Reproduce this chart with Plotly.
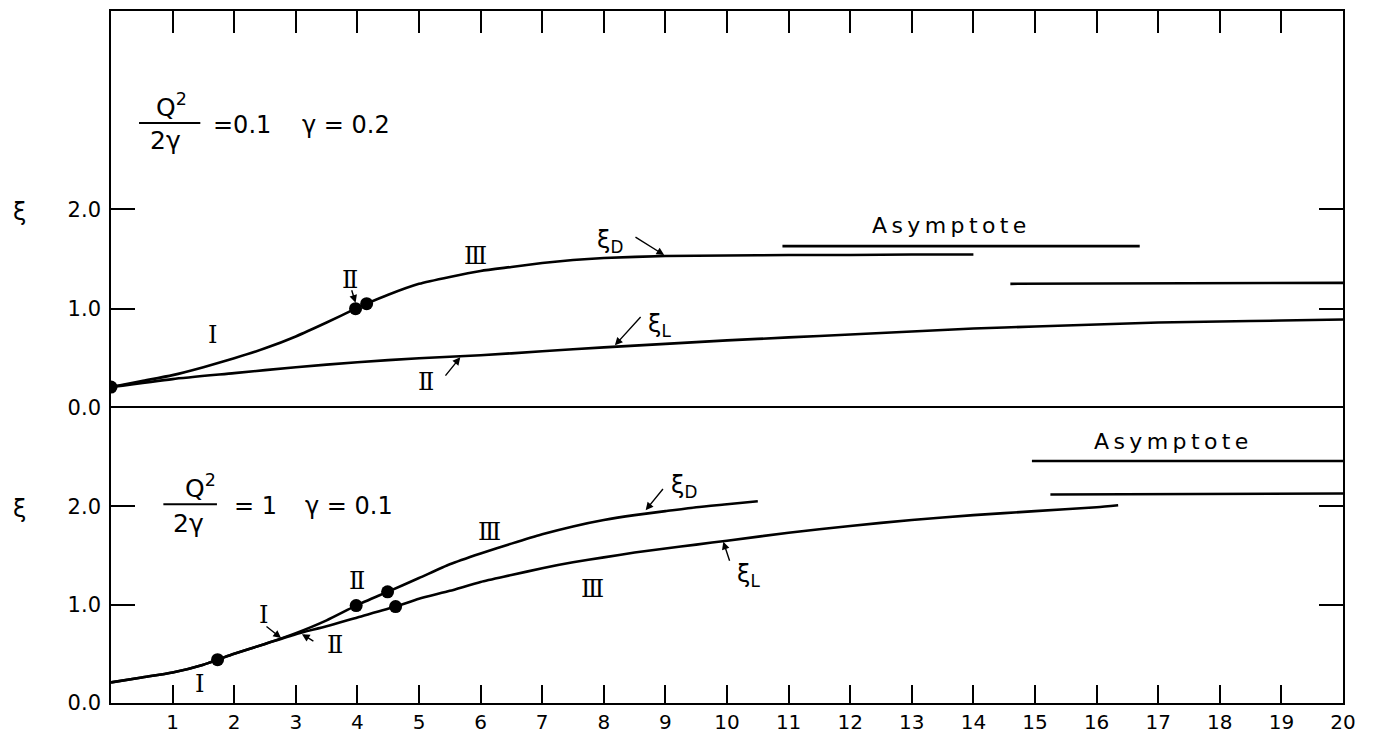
import plotly.graph_objects as go

# ---------------- data ----------------
# Top panel: Q^2/(2 gamma) = 0.1, gamma = 0.2
top_D_x = [0, 0.5, 1.0, 1.5, 2.0, 2.5, 3.0, 3.5, 3.97, 4.15, 4.5, 5.0, 5.5, 6.0, 6.5, 7.0, 7.5, 8.0, 9.0, 10.0, 11.0, 12.0, 13.0, 14.0]
top_D_y = [0.21, 0.27, 0.33, 0.41, 0.50, 0.60, 0.72, 0.86, 1.00, 1.05, 1.14, 1.25, 1.32, 1.38, 1.42, 1.46, 1.49, 1.51, 1.53, 1.535, 1.54, 1.54, 1.545, 1.545]
top_L_x = [0, 1, 2, 3, 4, 5, 6, 7, 8, 9, 10, 11, 12, 13, 14, 15, 16, 17, 18, 19, 20]
top_L_y = [0.21, 0.29, 0.35, 0.41, 0.46, 0.50, 0.53, 0.57, 0.61, 0.645, 0.68, 0.71, 0.74, 0.77, 0.80, 0.82, 0.84, 0.86, 0.87, 0.88, 0.89]
top_asym_D_x = [10.9, 16.7]
top_asym_D_y = [1.63, 1.63]
top_asym_L_x = [14.6, 20.0]
top_asym_L_y = [1.25, 1.26]
top_dots_x = [0, 3.97, 4.15]
top_dots_y = [0.21, 1.00, 1.05]

# Bottom panel: Q^2/(2 gamma) = 1, gamma = 0.1
bot_D_x = [0, 0.5, 1.0, 1.5, 1.73, 2.0, 2.5, 3.0, 3.5, 3.98, 4.49, 5.0, 5.5, 6.0, 6.5, 7.0, 7.5, 8.0, 8.5, 9.0, 9.5, 10.0, 10.5]
bot_D_y = [0.21, 0.26, 0.31, 0.39, 0.44, 0.50, 0.60, 0.71, 0.84, 0.99, 1.13, 1.27, 1.41, 1.52, 1.62, 1.715, 1.795, 1.86, 1.91, 1.95, 1.99, 2.02, 2.05]
bot_L_x = [0, 0.5, 1.0, 1.5, 1.73, 2.0, 2.5, 3.0, 3.5, 4.0, 4.62, 5.0, 5.5, 6.0, 6.5, 7.0, 7.5, 8.0, 8.5, 9.0, 9.5, 10.0, 11.0, 12.0, 13.0, 14.0, 15.0, 16.0, 16.35]
bot_L_y = [0.21, 0.26, 0.31, 0.39, 0.44, 0.50, 0.60, 0.70, 0.78, 0.87, 0.98, 1.06, 1.14, 1.23, 1.30, 1.37, 1.43, 1.48, 1.53, 1.57, 1.61, 1.65, 1.73, 1.80, 1.86, 1.91, 1.95, 1.99, 2.01]
bot_asym_D_x = [14.95, 20.0]
bot_asym_D_y = [2.46, 2.46]
bot_asym_L_x = [15.25, 20.0]
bot_asym_L_y = [2.12, 2.13]
bot_dots_x = [1.73, 3.98, 4.49, 4.62]
bot_dots_y = [0.44, 0.99, 1.13, 0.98]

x_tick_vals = list(range(1, 21))
x_tick_text = [str(v) for v in x_tick_vals]
y_tick_vals = [0, 1, 2]
y_tick_text = ["0.0", "1.0", "2.0"]

# ---------------- figure ----------------
BLACK = "black"
LW = 2.6
fig = go.Figure()

def line(x, y, xa, ya):
    fig.add_trace(go.Scatter(x=x, y=y, mode="lines", xaxis=xa, yaxis=ya,
                             line=dict(color=BLACK, width=LW, shape="spline", smoothing=0.6),
                             showlegend=False, hoverinfo="skip"))

def dots(x, y, xa, ya):
    fig.add_trace(go.Scatter(x=x, y=y, mode="markers", xaxis=xa, yaxis=ya,
                             marker=dict(color=BLACK, size=13), showlegend=False, hoverinfo="skip"))

line(top_D_x, top_D_y, "x2", "y2")
line(top_L_x, top_L_y, "x2", "y2")
line(top_asym_D_x, top_asym_D_y, "x2", "y2")
line(top_asym_L_x, top_asym_L_y, "x2", "y2")
dots(top_dots_x, top_dots_y, "x2", "y2")

line(bot_D_x, bot_D_y, "x", "y")
line(bot_L_x, bot_L_y, "x", "y")
line(bot_asym_D_x, bot_asym_D_y, "x", "y")
line(bot_asym_L_x, bot_asym_L_y, "x", "y")
dots(bot_dots_x, bot_dots_y, "x", "y")

SPLIT = 0.4265
axis_common = dict(showgrid=False, zeroline=False, showline=True, linecolor=BLACK,
                   linewidth=1.6, ticks="inside", tickcolor=BLACK, tickwidth=1.5, automargin=False)
TICKFONT = dict(family="DejaVu Sans", size=21, color=BLACK)
XTICKFONT = dict(family="DejaVu Sans", size=20, color=BLACK)

fig.update_layout(
    xaxis=dict(domain=[0, 1], anchor="y", range=[0, 20], tickvals=x_tick_vals, ticktext=x_tick_text,
               ticklen=18, mirror=True, tickfont=XTICKFONT, ticklabelstandoff=0, **axis_common),
    yaxis=dict(domain=[0, SPLIT], anchor="x", range=[0, 3], tickvals=y_tick_vals, ticktext=y_tick_text,
               ticklen=24, mirror="ticks", tickfont=TICKFONT, ticklabelstandoff=4, **axis_common),
    xaxis2=dict(domain=[0, 1], anchor="y2", range=[0, 20], tickvals=x_tick_vals[:-1], side="top",
                showticklabels=False, ticklen=22, mirror=False, matches="x", **axis_common),
    yaxis2=dict(domain=[SPLIT, 1], anchor="x2", range=[0, 4], tickvals=y_tick_vals, ticktext=y_tick_text,
                ticklen=24, mirror="ticks", tickfont=TICKFONT, ticklabelstandoff=4, **axis_common),
    plot_bgcolor="white", paper_bgcolor="white",
    margin=dict(l=111, r=39, t=11, b=33),
    width=1382, height=736,
)

SERIF = dict(family="DejaVu Serif", size=24, color=BLACK)
SANS = dict(family="DejaVu Sans", size=22, color=BLACK)
SANS24 = dict(family="DejaVu Sans", size=24, color=BLACK)
GREEK = dict(family="DejaVu Sans", size=24, color=BLACK)
QFONT = dict(family="DejaVu Sans", size=25, color=BLACK)
R1, R2, R3 = "Ⅰ", "Ⅱ", "Ⅲ"
TS = "\u2009"
ASYM = TS.join("Asymptote")

ann = []
def text(x, y, t, xr, yr, font, xanchor="center"):
    ann.append(dict(x=x, y=y, xref=xr, yref=yr, text=t, showarrow=False, font=font, xanchor=xanchor, yanchor="middle"))

def arrow(x0, y0, x1, y1, xr, yr):
    ann.append(dict(x=x1, y=y1, ax=x0, ay=y0, xref=xr, yref=yr, axref=xr, ayref=yr, text="",
                    showarrow=True, arrowhead=2, arrowsize=1.1, arrowwidth=1.4, arrowcolor=BLACK))

# y-axis titles (xi)
text(-0.074, 1.97, "ξ", "paper", "y2", GREEK)
text(-0.074, 1.97, "ξ", "paper", "y", GREEK)

# top panel labels
text(1.65, 0.73, R1, "x2", "y2", SERIF)
text(3.88, 1.29, R2, "x2", "y2", SERIF)
arrow(3.9, 1.2, 3.97, 1.06, "x2", "y2")
text(5.92, 1.53, R3, "x2", "y2", SERIF)
text(8.1, 1.68, "ξ<sub>D</sub>", "x2", "y2", GREEK)
arrow(8.49, 1.73, 8.98, 1.54, "x2", "y2")
text(8.9, 0.83, "ξ<sub>L</sub>", "x2", "y2", GREEK)
arrow(8.62, 0.93, 8.18, 0.63, "x2", "y2")
text(5.12, 0.26, R2, "x2", "y2", SERIF)
arrow(5.41, 0.31, 5.67, 0.51, "x2", "y2")
text(13.6, 1.84, ASYM, "x2", "y2", SANS)
text(0.98, 3.05, "Q<sup>2</sup>", "x2", "y2", QFONT)
text(0.88, 2.69, "2γ", "x2", "y2", QFONT)
text(1.63, 2.85, "=0.1", "x2", "y2", SANS24, xanchor="left")
text(3.07, 2.85, "γ = 0.2", "x2", "y2", SANS24, xanchor="left")

# bottom panel labels
text(6.14, 1.74, R3, "x", "y", SERIF)
text(4.0, 1.24, R2, "x", "y", SERIF)
text(2.48, 0.89, R1, "x", "y", SERIF)
arrow(2.5, 0.79, 2.76, 0.66, "x", "y")
text(3.64, 0.59, R2, "x", "y", SERIF)
arrow(3.31, 0.62, 3.1, 0.70, "x", "y")
text(1.43, 0.19, R1, "x", "y", SERIF)
text(7.81, 1.16, R3, "x", "y", SERIF)
text(9.3, 2.2, "ξ<sub>D</sub>", "x", "y", GREEK)
arrow(8.98, 2.19, 8.68, 1.96, "x", "y")
text(10.35, 1.3, "ξ<sub>L</sub>", "x", "y", GREEK)
arrow(10.05, 1.43, 9.94, 1.64, "x", "y")
text(17.2, 2.66, ASYM, "x", "y", SANS)
text(1.46, 2.2, "Q<sup>2</sup>", "x", "y", QFONT)
text(1.25, 1.82, "2γ", "x", "y", QFONT)
text(1.97, 2.0, "= 1", "x", "y", SANS24, xanchor="left")
text(3.12, 2.0, "γ = 0.1", "x", "y", SANS24, xanchor="left")

fig.update_layout(annotations=ann)

# fraction bars
fig.add_shape(type="line", x0=0.455, x1=1.45, y0=2.87, y1=2.87, xref="x2", yref="y2", line=dict(color=BLACK, width=2))
fig.add_shape(type="line", x0=0.85, x1=1.72, y0=2.02, y1=2.02, xref="x", yref="y", line=dict(color=BLACK, width=2))

fig.write_html("out.html", config={"displayModeBar": False},
               post_script="document.body.style.margin='0';")
